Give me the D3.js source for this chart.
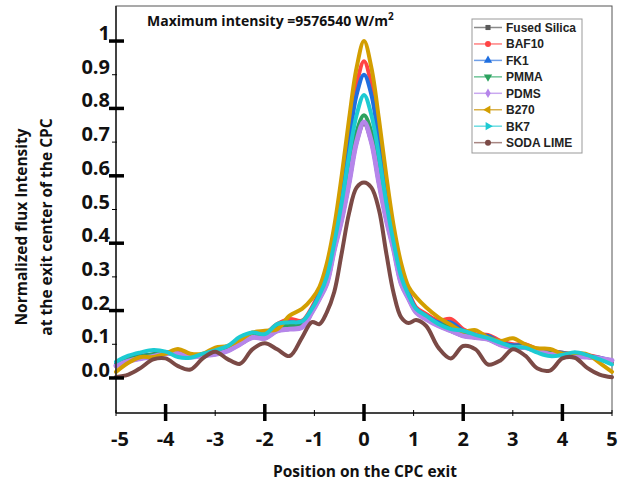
<!DOCTYPE html>
<html>
<head>
<meta charset="utf-8">
<script src="https://cdn.jsdelivr.net/npm/d3@7"></script>
<style>
  body { margin: 0; background: #fff; }
  svg { display: block; }
</style>
</head>
<body>
<div id="chart"></div>
<script>
// Sample positions along the CPC exit (shared by every series)
var positions = [-5,-4.75,-4.5,-4.25,-4,-3.75,-3.5,-3.25,-3,-2.75,-2.5,-2.25,-2,-1.75,-1.5,-1.25,
  -1.05,-0.9,-0.75,-0.6,-0.45,-0.3,-0.15,0,0.15,0.3,0.45,0.6,0.75,0.9,1.05,
  1.25,1.5,1.75,2,2.25,2.5,2.75,3,3.25,3.5,3.75,4,4.25,4.5,4.75,5];

// Normalized flux
var fusedSilica = [0.036,0.05,0.058,0.064,0.072,0.072,0.062,0.066,0.07,0.08,0.10,0.12,0.118,0.14,0.145,0.15,
  0.195,0.235,0.28,0.38,0.47,0.58,0.70,0.755,0.70,0.58,0.47,0.38,0.28,0.235,0.195,
  0.175,0.155,0.14,0.125,0.12,0.115,0.098,0.09,0.09,0.08,0.07,0.07,0.065,0.062,0.058,0.052];
var baf10 = [0.04,0.055,0.065,0.07,0.075,0.075,0.065,0.07,0.08,0.09,0.11,0.128,0.132,0.16,0.175,0.17,
  0.21,0.255,0.32,0.43,0.57,0.73,0.87,0.94,0.87,0.73,0.57,0.43,0.32,0.255,0.21,
  0.19,0.17,0.175,0.145,0.13,0.128,0.11,0.10,0.10,0.085,0.08,0.075,0.07,0.068,0.06,0.045];
var fk1 = [0.042,0.058,0.066,0.07,0.076,0.072,0.064,0.07,0.08,0.09,0.112,0.13,0.13,0.155,0.165,0.165,
  0.205,0.25,0.31,0.42,0.55,0.70,0.84,0.90,0.84,0.70,0.55,0.42,0.31,0.25,0.205,
  0.185,0.165,0.165,0.14,0.125,0.125,0.105,0.097,0.097,0.08,0.078,0.075,0.068,0.065,0.06,0.05];
var pmma = [0.04,0.055,0.064,0.07,0.074,0.07,0.063,0.068,0.078,0.088,0.108,0.125,0.125,0.148,0.155,0.158,
  0.2,0.24,0.29,0.39,0.49,0.61,0.73,0.78,0.73,0.61,0.49,0.39,0.29,0.24,0.2,
  0.18,0.16,0.155,0.135,0.12,0.12,0.10,0.093,0.093,0.078,0.075,0.072,0.066,0.064,0.058,0.05];
var pdms = [0.036,0.05,0.058,0.064,0.072,0.072,0.062,0.066,0.07,0.08,0.10,0.12,0.118,0.14,0.145,0.15,
  0.195,0.235,0.28,0.38,0.47,0.58,0.70,0.76,0.70,0.58,0.47,0.38,0.28,0.235,0.195,
  0.175,0.155,0.14,0.125,0.12,0.115,0.098,0.09,0.09,0.08,0.07,0.07,0.065,0.062,0.058,0.052];
var b270 = [0.018,0.045,0.062,0.062,0.072,0.086,0.072,0.072,0.09,0.095,0.113,0.135,0.14,0.145,0.185,0.205,
  0.235,0.27,0.34,0.45,0.60,0.77,0.92,1.0,0.92,0.77,0.60,0.45,0.34,0.27,0.24,
  0.21,0.18,0.158,0.138,0.142,0.12,0.11,0.118,0.10,0.088,0.086,0.072,0.074,0.07,0.045,0.018];
var bk7 = [0.048,0.066,0.076,0.083,0.078,0.062,0.060,0.072,0.082,0.095,0.122,0.135,0.13,0.16,0.165,0.168,
  0.205,0.245,0.30,0.40,0.52,0.66,0.78,0.84,0.78,0.66,0.52,0.40,0.30,0.245,0.205,
  0.185,0.16,0.145,0.14,0.128,0.118,0.105,0.092,0.09,0.075,0.065,0.068,0.076,0.068,0.055,0.04];
var sodaLime = [0.003,0.010,0.030,0.055,0.058,0.035,0.025,0.058,0.078,0.056,0.042,0.085,0.103,0.085,0.065,0.12,
  0.166,0.16,0.195,0.255,0.37,0.49,0.565,0.58,0.565,0.50,0.37,0.25,0.18,0.163,0.172,
  0.155,0.09,0.058,0.095,0.085,0.04,0.052,0.085,0.066,0.028,0.022,0.058,0.06,0.03,0.01,0.002];

var seriesNames = ["Fused Silica", "BAF10", "FK1", "PMMA", "PDMS", "B270", "BK7", "SODA LIME"];
var seriesValues = [fusedSilica, baf10, fk1, pmma, pdms, b270, bk7, sodaLime];
var seriesColors = ["#5a5a5a", "#ff4444", "#1f6fe0", "#2ca25f", "#b585ea", "#d39e00", "#1ccad2", "#7b4a46"];
var legendColors = ["#8a8a8a", "#ff8080", "#6f9fe8", "#6fc497", "#c9a8f0", "#d8b04a", "#6ddde2", "#a88783"];
var markerTypes = ["square", "circle", "up", "down", "diamond", "left", "right", "circle"];

// Axis ticks
var xTicks = [-5,-4,-3,-2,-1,0,1,2,3,4,5];
var yTicks = [0,0.1,0.2,0.3,0.4,0.5,0.6,0.7,0.8,0.9,1];
var yTickLabels = ["0.0","0.1","0.2","0.3","0.4","0.5","0.6","0.7","0.8","0.9","1"];

// Placement
var svgWidth = 618, svgHeight = 486,
  pLeft = 116, pRight = 612, pTop = 6, pBottom = 413,
  yMin = -0.104, yMax = 1.104;

var x = d3.scaleLinear().domain([-5, 5]).range([pLeft, pRight]);
var y = d3.scaleLinear().domain([yMin, yMax]).range([pBottom, pTop]);

var svg = d3.select("#chart").append("svg")
  .attr("width", svgWidth)
  .attr("height", svgHeight);

// plot frame
svg.append("rect")
  .attr("x", pLeft).attr("y", pTop)
  .attr("width", pRight - pLeft).attr("height", pBottom - pTop)
  .attr("fill", "none")
  .attr("stroke", "#555")
  .attr("stroke-width", 1);

// curves
var line = d3.line()
  .x(function(d) { return x(d[0]); })
  .y(function(d) { return y(d[1]); })
  .curve(d3.curveCatmullRom.alpha(0.5));

svg.append("g").selectAll("path")
  .data(seriesValues)
  .enter().append("path")
  .attr("d", function(vals) { return line(positions.map(function(p, i) { return [p, vals[i]]; })); })
  .attr("fill", "none")
  .attr("stroke", function(d, i) { return seriesColors[i]; })
  .attr("stroke-width", function(d, i) { return i == 4 ? 5 : 4; })
  .attr("stroke-linejoin", "round")
  .attr("stroke-linecap", "round");

// axes lines drawn over the frame
svg.append("line")
  .attr("x1", pLeft).attr("x2", pLeft).attr("y1", pTop).attr("y2", pBottom)
  .attr("stroke", "#222").attr("stroke-width", 1.5);
svg.append("line")
  .attr("x1", pLeft).attr("x2", pRight).attr("y1", pBottom).attr("y2", pBottom)
  .attr("stroke", "#222").attr("stroke-width", 1.5);

// y ticks: thick at even tenths
var yAxisG = svg.append("g");
yAxisG.selectAll("line")
  .data(yTicks)
  .enter().append("line")
  .attr("x1", function(d, i) { return i % 2 == 0 ? pLeft - 7 : pLeft - 4; })
  .attr("x2", function(d, i) { return i % 2 == 0 ? pLeft + 8 : pLeft + 1; })
  .attr("y1", function(d) { return y(d); })
  .attr("y2", function(d) { return y(d); })
  .attr("stroke", "#000")
  .attr("stroke-width", function(d, i) { return i % 2 == 0 ? 3.5 : 1; });
yAxisG.selectAll("text")
  .data(yTicks)
  .enter().append("text")
  .attr("x", pLeft - 6)
  .attr("y", function(d) { return y(d) - 1; })
  .attr("text-anchor", "end")
  .attr("font-family", "Open Sans, sans-serif")
  .attr("font-weight", 700)
  .attr("font-size", 20)
  .attr("fill", "#111")
  .text(function(d, i) { return yTickLabels[i]; });

// x ticks: thick at even positions
var xAxisG = svg.append("g");
xAxisG.selectAll("line")
  .data(xTicks)
  .enter().append("line")
  .attr("x1", function(d) { return x(d); })
  .attr("x2", function(d) { return x(d); })
  .attr("y1", function(d) { return d % 2 == 0 ? pBottom - 9 : pBottom - 3; })
  .attr("y2", function(d) { return d % 2 == 0 ? pBottom + 8 : pBottom + 3; })
  .attr("stroke", "#000")
  .attr("stroke-width", function(d) { return d % 2 == 0 ? 3.5 : 1; });
xAxisG.selectAll("text")
  .data(xTicks)
  .enter().append("text")
  .attr("x", function(d) { return x(d) + (d == -5 ? 4 : 0); })
  .attr("y", 446)
  .attr("text-anchor", "middle")
  .attr("font-family", "Open Sans, sans-serif")
  .attr("font-weight", 700)
  .attr("font-size", 20)
  .attr("fill", "#111")
  .text(function(d) { return d; });

// titles
svg.append("text")
  .attr("x", 365).attr("y", 477)
  .attr("text-anchor", "middle")
  .attr("font-family", "Open Sans, sans-serif")
  .attr("font-weight", 700)
  .attr("font-size", 15.5)
  .attr("fill", "#111")
  .text("Position on the CPC exit");

var yTitle = svg.append("text")
  .attr("transform", "translate(27,227)rotate(-90)")
  .attr("text-anchor", "middle")
  .attr("font-family", "Open Sans, sans-serif")
  .attr("font-weight", 700)
  .attr("font-size", 15.5)
  .attr("fill", "#111");
yTitle.append("tspan").attr("x", 0).attr("dy", 0).text("Normalized flux Intensity");
yTitle.append("tspan").attr("x", 0).attr("dy", 25).text("at the exit center of the CPC");

var title = svg.append("text")
  .attr("x", 147).attr("y", 26)
  .attr("font-family", "Open Sans, sans-serif")
  .attr("font-weight", 700)
  .attr("font-size", 14)
  .attr("fill", "#111");
title.append("tspan").text("Maximum intensity =9576540 W/m");
title.append("tspan").attr("font-size", 10).attr("dy", -6).text("2");

// legend
var legend = svg.append("g").attr("transform", "translate(472,19)");
legend.append("rect")
  .attr("width", 110).attr("height", 134)
  .attr("fill", "#fff")
  .attr("stroke", "#999")
  .attr("stroke-width", 1);

var symbolFor = {
  square: d3.symbol().type(d3.symbolSquare).size(26),
  circle: d3.symbol().type(d3.symbolCircle).size(28),
  diamond: d3.symbol().type(d3.symbolDiamond).size(26),
  up: d3.symbol().type(d3.symbolTriangle).size(30),
  down: d3.symbol().type(d3.symbolTriangle).size(30),
  left: d3.symbol().type(d3.symbolTriangle).size(30),
  right: d3.symbol().type(d3.symbolTriangle).size(30)
};
var symbolTurn = { square: 0, circle: 0, diamond: 0, up: 0, down: 180, left: -90, right: 90 };

var rows = legend.selectAll("g.row")
  .data(seriesNames)
  .enter().append("g")
  .attr("class", "row")
  .attr("transform", function(d, i) { return "translate(0," + (8.5 + i * 16.45) + ")"; });
rows.append("line")
  .attr("x1", 2).attr("x2", 30)
  .attr("stroke", function(d, i) { return legendColors[i]; })
  .attr("stroke-width", 1.5);
rows.append("path")
  .attr("d", function(d, i) { return symbolFor[markerTypes[i]](); })
  .attr("transform", function(d, i) { return "translate(16,0)rotate(" + symbolTurn[markerTypes[i]] + ")"; })
  .attr("fill", function(d, i) { return seriesColors[i]; });
rows.append("text")
  .attr("x", 34).attr("y", 4.5)
  .attr("font-family", "Liberation Sans, Arial, sans-serif")
  .attr("font-weight", 700)
  .attr("font-size", 12)
  .attr("fill", "#222")
  .text(function(d) { return d; });
</script>
</body>
</html>
